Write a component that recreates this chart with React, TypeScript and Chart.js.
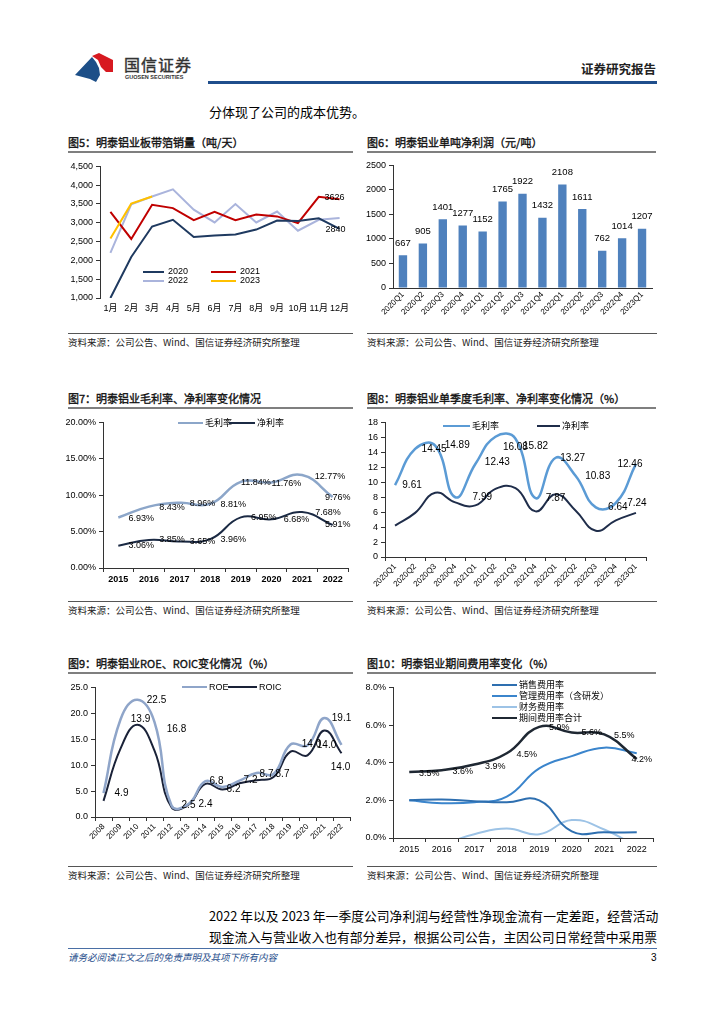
import React, { useEffect, useRef } from 'react';
import { Chart, registerables } from 'chart.js';
Chart.register(...registerables);

const FONT = '"Liberation Sans", "Noto Sans CJK SC", sans-serif';
const CJK = '"Noto Sans CJK SC", "Liberation Sans", sans-serif';
Chart.defaults.font.family = FONT;
Chart.defaults.font.size = 9;
Chart.defaults.color = '#000';

// ---------- data ----------
const months = ['1月', '2月', '3月', '4月', '5月', '6月', '7月', '8月', '9月', '10月', '11月', '12月'];
const sales2020 = [1000, 2090, 2900, 3080, 2620, 2660, 2690, 2820, 3060, 3050, 3120, 2840];
const sales2021 = [3290, 2570, 3480, 3390, 3070, 3290, 3070, 3220, 3170, 2990, 3690, 3626];
const sales2022 = [2200, 3490, 3700, 3890, 3350, 3010, 3500, 3010, 3300, 2790, 3080, 3130];
const sales2023 = [2580, 3510, 3700];

const quarters = ['2020Q1', '2020Q2', '2020Q3', '2020Q4', '2021Q1', '2021Q2', '2021Q3', '2021Q4', '2022Q1', '2022Q2', '2022Q3', '2022Q4', '2023Q1'];
const profitPerTon = [667, 905, 1401, 1277, 1152, 1765, 1922, 1432, 2108, 1611, 762, 1014, 1207];

const years7 = ['2015', '2016', '2017', '2018', '2019', '2020', '2021', '2022'];
const grossMargin = [6.93, 8.43, 8.96, 8.81, 11.84, 11.76, 12.77, 9.76];
const netMargin = [3.06, 3.85, 3.65, 3.96, 6.95, 6.68, 7.68, 5.91];

const qGross = [9.61, 14.45, 14.89, 7.99, 12.43, 16.08, 15.82, 7.87, 13.27, 10.83, 6.64, 7.24, 12.46];
const qNet = [4.2, 5.9, 8.6, 7.3, 6.9, 9.1, 9.2, 6.1, 8.4, 6.2, 3.5, 4.9, 5.9];

const years9 = ['2008', '2009', '2010', '2011', '2012', '2013', '2014', '2015', '2016', '2017', '2018', '2019', '2020', '2021', '2022'];
const roe = [4.6, 18.8, 22.6, 18.3, 2.2, 2.5, 6.9, 5.8, 7.0, 8.5, 8.3, 14.0, 13.8, 19.1, 13.9];
const roic = [3.1, 13.2, 17.8, 12.8, 1.9, 2.4, 6.4, 5.3, 6.5, 7.1, 7.7, 12.6, 11.9, 16.7, 12.3];
const roeLabels = [4.9, 13.9, 22.5, 16.8, 2.5, 2.4, 6.8, 6.2, 7.2, 8.7, 8.7, 14.0, 14.0, 19.1, 14.0];

const years10 = ['2015', '2016', '2017', '2018', '2019', '2020', '2021', '2022'];
const sellRate = [2.0, 2.05, 1.95, 1.9, 2.0, 0.35, 0.3, 0.3];
const mgmtRate = [2.0, 1.85, 1.9, 2.2, 3.7, 4.35, 4.8, 4.5];
const finRate = [-0.5, -0.3, 0.2, 0.5, 0.2, 0.95, 0.45, -0.45];
const totalRate = [3.5, 3.6, 3.9, 4.5, 5.9, 5.6, 5.5, 4.2];

// ---------- label plugin ----------
const labelPlugin = {
  id: 'dlabels',
  afterDatasetsDraw(chart: any) {
    const ctx = chart.ctx;
    chart.data.datasets.forEach((ds: any, i: number) => {
      const cfg = ds.dlabels;
      if (!cfg) return;
      const meta = chart.getDatasetMeta(i);
      ctx.save();
      ctx.font = cfg.font || `9px ${FONT}`;
      ctx.fillStyle = cfg.color || '#000';
      ctx.textAlign = 'center';
      ctx.textBaseline = 'middle';
      meta.data.forEach((el: any, j: number) => {
        if (cfg.only && !cfg.only.includes(j)) return;
        const v = cfg.texts ? cfg.texts[j] : ds.data[j];
        const text = cfg.format ? cfg.format(v) : String(v);
        const dx = Array.isArray(cfg.dx) ? cfg.dx[j] : cfg.dx || 0;
        const dy = Array.isArray(cfg.dy) ? cfg.dy[j] : cfg.dy || 0;
        ctx.fillText(text, el.x + dx, el.y + dy);
      });
      ctx.restore();
    });
  },
};

// ---------- helpers ----------
type Box = { l: number; t: number; r: number; b: number; ml: number; mt: number; mr: number; mb: number };
const AX = '#333';

function yAxis(min: number, max: number, step: number, fmt: (v: number) => string) {
  return {
    min,
    max,
    ticks: { stepSize: step, callback: (v: any) => fmt(Number(v)), padding: 3, font: { size: 9 } },
    grid: { display: true, drawOnChartArea: false, drawTicks: true, tickLength: 4, color: AX },
    border: { display: true, color: AX },
  };
}

function xAxis(opts: { rotate?: boolean; border?: boolean; ticks?: boolean; bold?: boolean; size?: number; pad?: number }) {
  return {
    offset: true,
    ticks: {
      autoSkip: false,
      maxRotation: opts.rotate ? 45 : 0,
      minRotation: opts.rotate ? 45 : 0,
      padding: opts.pad ?? 3,
      font: { size: opts.size || 9, weight: opts.bold ? 'bold' : 'normal' },
    },
    grid: { display: !!opts.ticks, offset: true, drawOnChartArea: false, drawTicks: !!opts.ticks, tickLength: 4, color: AX },
    border: { display: opts.border !== false, color: AX },
  };
}

function ChartBox({ box, build }: { box: Box; build: () => any }) {
  const ref = useRef<HTMLCanvasElement>(null);
  const w = Math.round(box.r - box.l + box.ml + box.mr);
  const h = Math.round(box.b - box.t + box.mt + box.mb);
  useEffect(() => {
    const cfg = build();
    const o = cfg.options;
    o.responsive = false;
    o.maintainAspectRatio = false;
    o.animation = false;
    o.layout = { padding: { top: box.mt, right: box.mr, left: 0, bottom: 0 } };
    o.plugins = { legend: { display: false }, tooltip: { enabled: false }, title: { display: false } };
    o.scales.x.afterFit = (s: any) => { s.height = box.mb; };
    o.scales.y.afterFit = (s: any) => { s.width = box.ml; };
    cfg.plugins = [labelPlugin];
    const c = new Chart(ref.current as HTMLCanvasElement, cfg);
    return () => c.destroy();
  }, []);
  return (
    <canvas
      ref={ref}
      width={w}
      height={h}
      style={{ position: 'absolute', left: box.l - box.ml, top: box.t - box.mt, width: w, height: h }}
    />
  );
}

function Txt({ x, cy, size, children, style }: any) {
  return (
    <div
      style={{
        position: 'absolute', left: x, top: cy - size * 0.7, fontSize: size, lineHeight: `${size * 1.4}px`,
        whiteSpace: 'nowrap', fontFamily: CJK, color: '#000', ...style,
      }}
    >
      {children}
    </div>
  );
}

type LegItem = { x: number; y: number; w: number; color: string; text: string; tx: number };
function Legend({ items, size = 9 }: { items: LegItem[]; size?: number }) {
  return (
    <>
      {items.map((it, i) => (
        <React.Fragment key={i}>
          <div style={{ position: 'absolute', left: it.x, top: it.y - 1, width: it.w, height: 2, background: it.color }} />
          <Txt x={it.tx} cy={it.y} size={size} style={{ fontFamily: FONT }}>{it.text}</Txt>
        </React.Fragment>
      ))}
    </>
  );
}

function Title({ x, y, w, text }: { x: number; y: number; w: number; text: string }) {
  return (
    <>
      <Txt x={x} cy={y} size={11} style={{ color: '#111', WebkitTextStroke: '0.35px #111' }}>{text}</Txt>
      <div style={{ position: 'absolute', left: x, top: y + 8, width: w, height: 2, background: '#7f7f7f' }} />
    </>
  );
}

function Source({ x, y, w }: { x: number; y: number; w: number }) {
  return (
    <>
      <div style={{ position: 'absolute', left: x, top: y - 10, width: w, height: 1, background: '#555' }} />
      <Txt x={x} cy={y} size={9.5} style={{ color: '#222' }}>资料来源：公司公告、Wind、国信证券经济研究所整理</Txt>
    </>
  );
}

// ---------- chart builders ----------
const lineDs = (data: number[], color: string, width: number, tension: number, extra: any = {}) => ({
  data, borderColor: color, backgroundColor: color, borderWidth: width, pointRadius: 0, tension, fill: false, ...extra,
});

const c1Box: Box = { l: 100, t: 165, r: 350, b: 298, ml: 38, mt: 7, mr: 12, mb: 18 };
const buildC1 = () => ({
  type: 'line',
  data: {
    labels: months,
    datasets: [
      lineDs(sales2023, '#ffc000', 2, 0),
      lineDs(sales2020, '#1f3a60', 2, 0, { dlabels: { only: [11], dx: -4, dy: 1 } }),
      lineDs(sales2021, '#c00000', 2, 0, { dlabels: { only: [11], dx: -5, dy: -2 } }),
      lineDs(sales2022, '#aab4dc', 2, 0),
    ],
  },
  options: {
    scales: {
      x: xAxis({ border: false, ticks: false, pad: 5 }),
      y: yAxis(1000, 4500, 500, (v) => v.toLocaleString('en-US')),
    },
  },
});

const c2Box: Box = { l: 393, t: 165, r: 652, b: 288, ml: 30, mt: 8, mr: 8, mb: 38 };
const buildC2 = () => ({
  type: 'bar',
  data: {
    labels: quarters,
    datasets: [
      {
        data: profitPerTon, backgroundColor: '#4f81bd', barPercentage: 0.42, categoryPercentage: 1,
        dlabels: { dy: -12, font: `9.5px ${FONT}` },
      },
    ],
  },
  options: {
    scales: {
      x: xAxis({ rotate: true, ticks: false, size: 8, pad: 2 }),
      y: yAxis(0, 2500, 500, (v) => String(v)),
    },
  },
});

const c3Box: Box = { l: 103, t: 422, r: 348, b: 568, ml: 38, mt: 8, mr: 12, mb: 18 };
const buildC3 = () => ({
  type: 'line',
  data: {
    labels: years7,
    datasets: [
      lineDs(grossMargin, '#8ca6c9', 2.5, 0.45, {
        dlabels: { dx: [23, 23, 23, 23, 15, 15, 28, 5], dy: 1, format: (v: number) => v.toFixed(2) + '%' },
      }),
      lineDs(netMargin, '#1b2a44', 2, 0.45, {
        dlabels: { dx: [23, 23, 23, 23, 23, 25, 26, 5], dy: 0, format: (v: number) => v.toFixed(2) + '%' },
      }),
    ],
  },
  options: {
    scales: {
      x: xAxis({ ticks: true, bold: true, pad: 2 }),
      y: yAxis(0, 20, 5, (v) => v.toFixed(2) + '%'),
    },
  },
});

const c4Box: Box = { l: 385, t: 422, r: 646, b: 557, ml: 22, mt: 8, mr: 12, mb: 34 };
const buildC4 = () => ({
  type: 'line',
  data: {
    labels: quarters,
    datasets: [
      lineDs(qGross, '#5b9bd5', 2.5, 0.45, {
        dlabels: {
          dx: [17, 19, 22, 27, 22, 20, 20, 20, 17, 22, 22, 21, -6],
          dy: [0, 0, 0, 0, -2, 10, 8, 0, 0, 0, 0, 0, 0],
          font: `10px ${FONT}`,
          format: (v: number) => v.toFixed(2),
        },
      }),
      lineDs(qNet, '#1f2d4a', 2, 0.45),
    ],
  },
  options: {
    scales: {
      x: xAxis({ rotate: true, ticks: true, size: 8, pad: 1 }),
      y: yAxis(0, 18, 2, (v) => String(v)),
    },
  },
});

const c5Box: Box = { l: 95, t: 687, r: 350, b: 817, ml: 30, mt: 8, mr: 10, mb: 30 };
const buildC5 = () => ({
  type: 'line',
  data: {
    labels: years9,
    datasets: [
      lineDs(roe, '#8fa5c9', 2.5, 0.45, {
        dlabels: {
          texts: roeLabels,
          dx: [18, 20, 19, 22, 17, 17, 11, 11, 11, 10, 9, 21, 19, 17, -1],
          dy: [0, 0, 0, 7, 0, 0, 0, 2, 0, 1, 0, 0, 0, 0, 22],
          font: `10px ${FONT}`,
          format: (v: number) => v.toFixed(1),
        },
      }),
      lineDs(roic, '#1a2238', 2, 0.45),
    ],
  },
  options: {
    scales: {
      x: xAxis({ rotate: true, ticks: true, size: 8, pad: 1 }),
      y: yAxis(0, 25, 5, (v) => v.toFixed(1)),
    },
  },
});

const c6Box: Box = { l: 393, t: 687, r: 653, b: 838, ml: 30, mt: 8, mr: 6, mb: 18 };
const buildC6 = () => ({
  type: 'line',
  data: {
    labels: years10,
    datasets: [
      lineDs(totalRate, '#1f2833', 2.5, 0.45, {
        dlabels: { dx: [20, 21, 21, 20, 20, 20, 20, 5], dy: [1, 1, 2, 1, 1, 0, 1, 1], format: (v: number) => v.toFixed(1) + '%' },
      }),
      lineDs(sellRate, '#2e6fb0', 2, 0.45),
      lineDs(mgmtRate, '#3b85cc', 2, 0.45),
      lineDs(finRate, '#9dc3e6', 2, 0.45),
    ],
  },
  options: {
    scales: {
      x: xAxis({ ticks: true, pad: 2 }),
      y: yAxis(0, 8, 2, (v) => v.toFixed(1) + '%'),
    },
  },
});

const paraStyle: React.CSSProperties = {
  position: 'absolute', left: 209, width: 448, fontSize: 12.8, lineHeight: '21px',
  textAlign: 'justify', textAlignLast: 'justify', whiteSpace: 'nowrap', color: '#000', fontFamily: CJK,
};

// ---------- page ----------
export default function App() {
  return (
    <div style={{ position: 'absolute', left: 0, top: 0, width: 724, height: 1024, background: '#fff', overflow: 'hidden', fontFamily: CJK }}>
      {/* header */}
      <svg style={{ position: 'absolute', left: 72, top: 50 }} width={44} height={34} viewBox="72 50 44 34">
        <polygon points="92,56 99,53 113,60 113,72 106,72 101,67 98,60" fill="#d71920" />
        <polygon points="75,75 92,57 96,62 99,68 100,75 96,82 90,79" fill="#1d4f88" />
      </svg>
      <Txt x={124} cy={64} size={16} style={{ color: '#333', letterSpacing: 1, WebkitTextStroke: '0.4px #333' }}>国信证券</Txt>
      <Txt x={125} cy={77.5} size={5.5} style={{ fontFamily: FONT, fontWeight: 'bold', color: '#333' }}>GUOSEN SECURITIES</Txt>
      <div style={{ position: 'absolute', left: 208, top: 81, width: 449, height: 2.5, background: '#1f4e8c' }} />
      <Txt x={581} cy={69} size={12.5} style={{ fontWeight: 'bold', color: '#222' }}>证券研究报告</Txt>
      <Txt x={209} cy={112} size={13}>分体现了公司的成本优势。</Txt>

      {/* row 1 */}
      <Title x={68} y={143} w={285} text="图5：明泰铝业板带箔销量（吨/天）" />
      <Title x={367} y={143} w={289} text="图6：明泰铝业单吨净利润（元/吨）" />
      <ChartBox box={c1Box} build={buildC1} />
      <ChartBox box={c2Box} build={buildC2} />
      <Legend
        items={[
          { x: 143, y: 271.5, w: 21, color: '#1f3a60', text: '2020', tx: 168 },
          { x: 211, y: 271.5, w: 25, color: '#c00000', text: '2021', tx: 240 },
          { x: 143, y: 280.5, w: 21, color: '#aab4dc', text: '2022', tx: 168 },
          { x: 211, y: 280.5, w: 25, color: '#ffc000', text: '2023', tx: 240 },
        ]}
      />
      <Source x={68} y={343} w={285} />
      <Source x={367} y={343} w={290} />

      {/* row 2 */}
      <Title x={68} y={399} w={285} text="图7：明泰铝业毛利率、净利率变化情况" />
      <Title x={367} y={399} w={289} text="图8：明泰铝业单季度毛利率、净利率变化情况（%）" />
      <ChartBox box={c3Box} build={buildC3} />
      <ChartBox box={c4Box} build={buildC4} />
      <Legend
        items={[
          { x: 178, y: 423, w: 25, color: '#8ca6c9', text: '毛利率', tx: 205 },
          { x: 229, y: 423, w: 26, color: '#1b2a44', text: '净利率', tx: 257 },
        ]}
      />
      <Legend
        items={[
          { x: 443, y: 426, w: 27, color: '#5b9bd5', text: '毛利率', tx: 472 },
          { x: 537, y: 426, w: 23, color: '#1f2d4a', text: '净利率', tx: 562 },
        ]}
      />
      <Source x={68} y={611} w={285} />
      <Source x={367} y={611} w={290} />

      {/* row 3 */}
      <Title x={68} y={664} w={285} text="图9：明泰铝业ROE、ROIC变化情况（%）" />
      <Title x={367} y={664} w={289} text="图10：明泰铝业期间费用率变化（%）" />
      <ChartBox box={c5Box} build={buildC5} />
      <ChartBox box={c6Box} build={buildC6} />
      <Legend
        items={[
          { x: 182, y: 687, w: 25, color: '#8fa5c9', text: 'ROE', tx: 209 },
          { x: 228, y: 687, w: 29, color: '#1a2238', text: 'ROIC', tx: 259 },
        ]}
      />
      <Legend
        items={[
          { x: 492, y: 685, w: 25, color: '#2e6fb0', text: '销售费用率', tx: 519 },
          { x: 492, y: 696, w: 25, color: '#3b85cc', text: '管理费用率（含研发）', tx: 519 },
          { x: 492, y: 707, w: 25, color: '#9dc3e6', text: '财务费用率', tx: 519 },
          { x: 492, y: 718, w: 25, color: '#1f2833', text: '期间费用率合计', tx: 519 },
        ]}
      />
      <Source x={68} y={876} w={285} />
      <Source x={367} y={876} w={290} />

      {/* paragraph */}
      <div style={{ ...paraStyle, top: 905 }}>
        2022 年以及 2023 年一季度公司净利润与经营性净现金流有一定差距，经营活动
      </div>
      <div style={{ ...paraStyle, top: 926 }}>
        现金流入与营业收入也有部分差异，根据公司公告，主因公司日常经营中采用票
      </div>

      {/* footer */}
      <div style={{ position: 'absolute', left: 68, top: 948, width: 589, height: 1, background: '#4a6fa5' }} />
      <Txt x={68} cy={958} size={9.5} style={{ fontStyle: 'italic', color: '#1f4e8c' }}>请务必阅读正文之后的免责声明及其项下所有内容</Txt>
      <Txt x={651} cy={958} size={10} style={{ fontFamily: FONT }}>3</Txt>
    </div>
  );
}
